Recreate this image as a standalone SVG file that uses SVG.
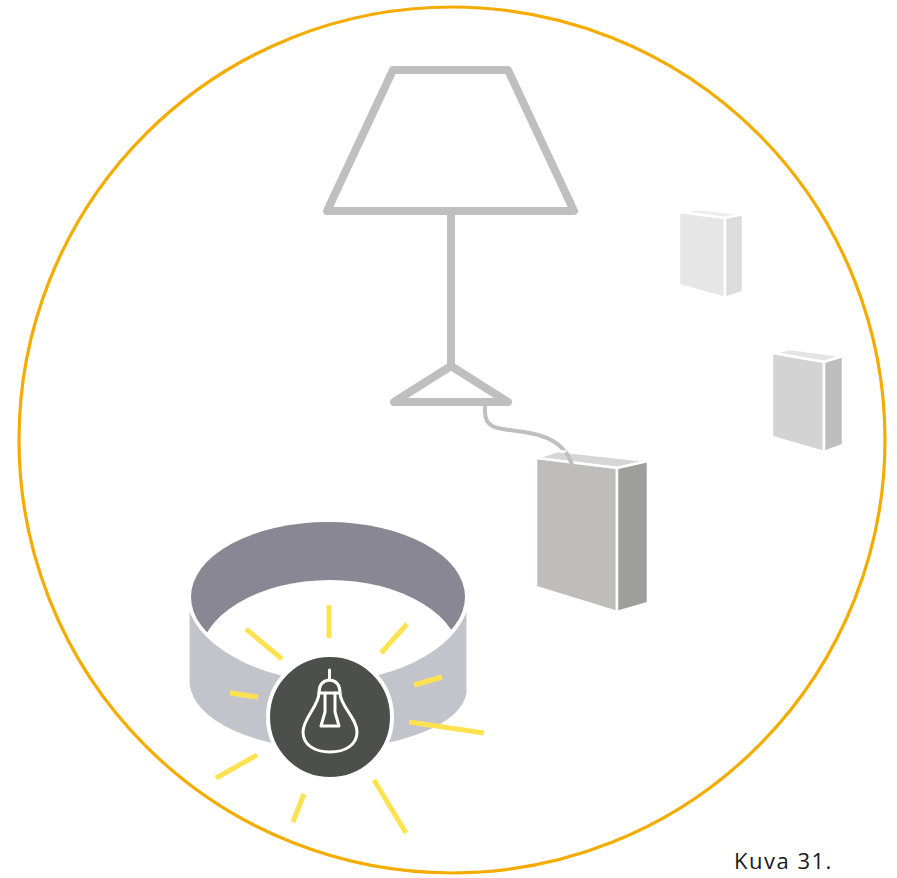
<svg xmlns="http://www.w3.org/2000/svg" width="897" height="878" viewBox="0 0 897 878">
  <style>
    .lampline { fill: none; stroke: #BFBFBF; stroke-width: 8; stroke-linejoin: round; stroke-linecap: round; }
    .sep { stroke: #FFFFFF; stroke-width: 2.5; stroke-linejoin: round; }
    .ray { stroke: #FFE24F; stroke-width: 5; stroke-linecap: butt; }
    .icon { fill: none; stroke: #FFFFFF; stroke-width: 3; stroke-linejoin: round; stroke-linecap: round; }
    .caption { font-family: "Open Sans", "Liberation Sans", sans-serif; font-size: 22px; letter-spacing: 1.5px; fill: #1A1A1A; }
  </style>

  <rect width="897" height="878" fill="#FFFFFF"/>

  <!-- frame circle -->
  <circle id="frame" cx="452" cy="440" r="433" fill="none" stroke="#F4AC00" stroke-width="3.2"/>

  <!-- floor lamp -->
  <g id="lamp">
    <path class="lampline" d="M393,70 L508,70 L574,211 L327,211 Z"/>
    <line class="lampline" x1="451" y1="211" x2="451" y2="365" stroke-linecap="butt"/>
    <path class="lampline" d="M451,366 L508,402 L394,402 Z"/>
  </g>

  <!-- power cord from lamp base to receiver -->
  <g id="connectors">
    <path d="M485,403 L485,412 C485,432 505,428 530,433 C555,438 566,448 573,466" fill="none" stroke="#BFBFBF" stroke-width="4"/>
  </g>

  <!-- receiver unit next to lamp -->
  <g id="receiver">
    <polygon points="536,458 558,451 648,461 617,468" fill="#D6D6D6" class="sep"/>
    <polygon points="536,458 617,468 617,612 536,587" fill="#BEBDBB" class="sep"/>
    <polygon points="617,468 648,461 648,603 617,612" fill="#9E9E9D" class="sep"/>
  </g>
  <!-- cord end overlapping the receiver top -->
  <path d="M566,452 C569,457 571,461 573,467" fill="none" stroke="#BFBFBF" stroke-width="4"/>

  <!-- wall switch 1 -->
  <g id="switch1">
    <polygon points="679,212 700,209 743,214 725,218" fill="#EDEDED" class="sep"/>
    <polygon points="679,212 725,218 725,298 679,285" fill="#E6E6E6" class="sep"/>
    <polygon points="725,218 743,214 743,292 725,298" fill="#DCDCDC" class="sep"/>
  </g>

  <!-- wall switch 2 -->
  <g id="switch2">
    <polygon points="772,353 791,349 843,356 824,362" fill="#E4E4E4" class="sep"/>
    <polygon points="772,353 824,362 824,452 772,437" fill="#D3D3D3" class="sep"/>
    <polygon points="824,362 843,356 843,445 824,452" fill="#BEBEBE" class="sep"/>
  </g>

  <!-- wrist band with light indicator -->
  <g id="band">
    <ellipse cx="328" cy="597" rx="137" ry="75" fill="#8A8794"/>
    <ellipse cx="330" cy="660" rx="131" ry="80" fill="#FFFFFF"/>
    <path d="M188,597 C190,642 262,680 328,680 C398,680 466,642 468,597 L468,693 C464,726 398,750 328,750 C258,750 192,724 188,683 Z" fill="#C3C3CC" stroke="#FFFFFF" stroke-width="3"/>
  </g>

  <!-- light rays -->
  <g id="rays">
    <line class="ray" x1="329" y1="605" x2="329" y2="638"/>
    <line class="ray" x1="246" y1="629" x2="282" y2="659"/>
    <line class="ray" x1="407" y1="624" x2="381" y2="653"/>
    <line class="ray" x1="230" y1="693" x2="258" y2="697"/>
    <line class="ray" x1="414" y1="685" x2="442" y2="677"/>
    <line class="ray" x1="409" y1="722" x2="484" y2="733"/>
    <line class="ray" x1="216" y1="778" x2="257" y2="755"/>
    <line class="ray" x1="293" y1="822" x2="304" y2="794"/>
    <line class="ray" x1="374" y1="780" x2="406" y2="833"/>
  </g>

  <!-- bulb indicator -->
  <g id="indicator">
    <circle cx="330" cy="717" r="62" fill="#4D4F4C" stroke="#FFFFFF" stroke-width="4"/>
    <line class="icon" x1="329.5" y1="670" x2="329.5" y2="679"/>
    <path class="icon" d="M319,693 Q319,681 329.5,680 Q340,681 340,693 Z"/>
    <path class="icon" d="M319,693 C319,706 303,718 303,732 C303,745 315,752 330,752 C345,752 357,745 357,732 C357,718 340,706 340,693"/>
    <path class="icon" d="M325,693 L325,712 L321,726 L339,726 L335,712 L335,693"/>
  </g>

  <text class="caption" x="734" y="869">Kuva 31.</text>
</svg>
